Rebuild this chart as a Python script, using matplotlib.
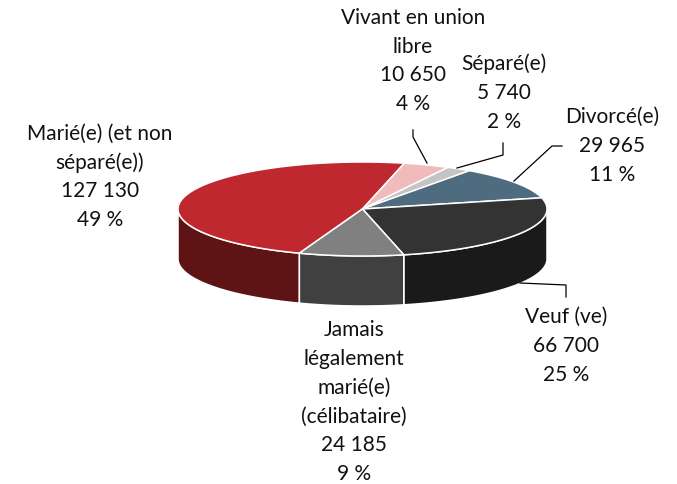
import numpy as np
import matplotlib
matplotlib.use("Agg")
import matplotlib.pyplot as plt

# -------------------------------------------------------------
# DATA
# -------------------------------------------------------------
categories = ["Marié(e) (et non\nséparé(e))", "Vivant en union\nlibre", "Séparé(e)",
              "Divorcé(e)", "Veuf (ve)", "Jamais\nlégalement\nmarié(e)\n(célibataire)"]
values = [127130, 10650, 5740, 29965, 66700, 24185]
percents = [49, 4, 2, 11, 25, 9]

top_colors = ["#BE282E", "#EFBBBB", "#C4C4C4", "#4E6B7F", "#333333", "#808080"]
side_colors = ["#5E1415", "#8A6C6C", "#717171", "#2D3E4A", "#1A1A1A", "#404040"]

# pie geometry, in picture pixels
CX, CY = 362.5, 209
RX, RY = 184.5, 47
DEPTH = 50
START = 200  # degrees clockwise from top
LINE_STEP = 28.8

label_pos = [(100, 177), (413, 61), (504, 93), (612, 146), (566, 346), (354, 402)]
leaders = [None,
           [(427, 163), (413, 137), (413, 130)],
           [(457, 168), (503, 155), (503, 143)],
           [(514, 181), (552, 146), (562, 146)],
           [(520, 283), (566, 285), (566, 297)],
           None]

plt.rcParams['font.family'] = ['Lato', 'DejaVu Sans']

fig = plt.figure(figsize=(6.77, 4.84), dpi=100)
ax = fig.add_axes([0, 0, 1, 1])
ax.set_xlim(0, 677)
ax.set_ylim(484, 0)
ax.axis('off')


def rim(a, b, n=80):
    t = np.radians(np.linspace(a, b, n))
    return CX + RX * np.sin(t), CY - RY * np.cos(t)


# angles of the slices
shares = np.array(values) / sum(values) * 360
edges = START + np.concatenate([[0], np.cumsum(shares)])

# side walls first (only the front half of the rim is visible)
for i in range(len(values)):
    for shift in (0, -360):
        a = max(edges[i] + shift, 90)
        b = min(edges[i + 1] + shift, 270)
        if a < b:
            x, y = rim(a, b)
            ax.fill(np.r_[x, x[::-1]], np.r_[y, y[::-1] + DEPTH],
                    color=side_colors[i], ec='white', lw=1.1, zorder=2)

# top face
for i in range(len(values)):
    x, y = rim(edges[i], edges[i + 1])
    ax.fill(np.r_[CX, x], np.r_[CY, y], facecolor=top_colors[i],
            edgecolor='white', lw=1.1, joinstyle='round', zorder=3)

# labels (one text per line) and leader lines
for i, name in enumerate(categories):
    num = f"{values[i]:,}".replace(",", " ")
    lines = name.split("\n") + [num, f"{percents[i]} %"]
    y0 = label_pos[i][1] - LINE_STEP * (len(lines) - 1) / 2
    for j, line in enumerate(lines):
        ax.text(label_pos[i][0], y0 + j * LINE_STEP, line, ha='center', va='center',
                fontsize=15, color='#111111', zorder=5)
    if leaders[i] is not None:
        ax.plot(*zip(*leaders[i]), color='black', lw=0.9, zorder=4)

fig.savefig("out.png", dpi=100)
